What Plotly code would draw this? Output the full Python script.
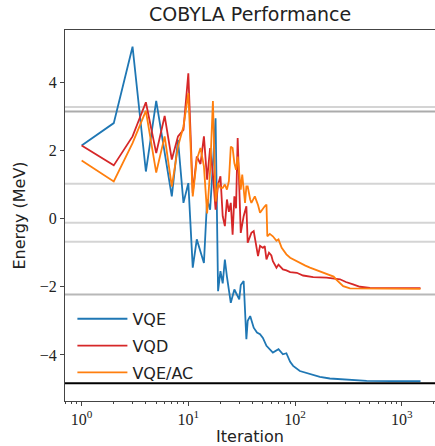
import plotly.graph_objects as go

# ---- data ----
vqe_iter = [1,2,3,4,5,6,7,8,9,10,11,12,13,14,15,16,17,18,19,20,21,22,23,25,27,29,30,31,33,35,36,38,41,44,47,50,54,62,70,77,83,90,96,111,138,171,212,300,469,800,1500]
vqe_energy = [2.14,2.80,5.04,1.38,3.45,2.0,0.65,2.31,0.46,1.04,-1.44,-0.61,-0.95,-1.30,0.56,0.26,1.6,2.94,-2.13,-1.54,-1.9,-1.2,-1.7,-2.47,-2.08,-2.25,-2.37,-1.95,-1.83,-3.54,-3.0,-2.86,-3.2,-3.34,-3.39,-3.5,-3.73,-3.93,-3.83,-3.98,-3.95,-4.2,-4.32,-4.47,-4.56,-4.64,-4.69,-4.73,-4.76,-4.77,-4.77]

vqd_iter = [1,2,3,4,5,6,7,8,9,10,11,12,13,14,15,16,17,18,19,20,21,22,23,24,25,26,27,28,29,30,31,33,35,36,39,41,42,45,47,50,52,54,57,60,62,67,70,77,83,90,104,111,119,148,198,264,300,350,406,504,700,1500]
vqd_energy = [2.14,1.56,2.41,3.41,1.92,3.01,1.73,2.41,2.6,4.26,0.75,1.82,1.6,2.41,1.14,2.07,1.3,0.26,1.0,1.24,0.07,-0.22,0.56,0.2,0.46,-0.47,0.65,0.3,2.36,1.2,-0.42,0.07,0.36,-0.71,-0.42,-0.37,-0.6,-1.10,-0.8,-0.86,-0.81,-1.2,-1.0,-1.08,-1.25,-1.44,-1.35,-1.49,-1.52,-1.57,-1.59,-1.64,-1.67,-1.72,-1.73,-1.78,-1.86,-1.93,-2.0,-2.03,-2.04,-2.04]

vqeac_iter = [1,2,3,4,5,6,7,8,9,10,11,12,13,14,15,16,17,18,19,20,21,22,23,24,25,26,27,28,29,30,31,32,34,35,36,38,39,42,45,47,50,52,54,55,58,62,67,70,75,80,83,90,96,111,125,138,171,212,230,245,283,327,600,1500]
vqeac_energy = [1.70,1.09,2.21,3.16,1.35,2.41,0.94,2.11,2.7,3.68,0.65,1.73,2.07,1.53,0.15,1.4,3.45,0.5,1.04,0.9,0.9,1.0,0.85,1.1,2.11,2.07,1.63,1.43,1.82,1.4,0.85,1.29,0.46,0.94,0.94,0.56,0.46,0.65,0.4,0.17,0.3,0.36,0.41,-0.52,-0.45,-0.52,-0.65,-0.61,-0.86,-1.0,-1.05,-1.15,-1.2,-1.30,-1.38,-1.44,-1.54,-1.64,-1.7,-1.80,-1.98,-2.05,-2.06,-2.06]

level_energies = [3.27, 3.14, 1.02, -0.12, -0.68, -2.23]
level_colors = ["#d4d4d4", "#ababab", "#d4d4d4", "#d4d4d4", "#d4d4d4", "#b8b8b8"]
ground_energy = -4.83

series_names = ["VQE", "VQD", "VQE/AC"]
series_colors = ["#1f77b4", "#d62728", "#ff7f0e"]

x_tickvals = [1, 10, 100, 1000]
x_ticktext = ["10<sup>0</sup>", "10<sup>1</sup>", "10<sup>2</sup>", "10<sup>3</sup>"]
y_tickvals = [-4, -2, 0, 2, 4]

fig = go.Figure()

for e, c in zip(level_energies, level_colors):
    fig.add_hline(y=e, line=dict(color=c, width=2), layer="below")
fig.add_hline(y=ground_energy, line=dict(color="black", width=2))

for name, xs, ys, col in zip(series_names,
                             [vqe_iter, vqd_iter, vqeac_iter],
                             [vqe_energy, vqd_energy, vqeac_energy],
                             series_colors):
    fig.add_trace(go.Scatter(x=xs, y=ys, mode="lines", name=name,
                             legendgroup=name,
                             line=dict(color=col, width=1.8)))

serif = "Liberation Serif"
sans = "DejaVu Sans"

fig.update_layout(
    width=435, height=446,
    margin=dict(l=65, r=0, t=30, b=45),
    paper_bgcolor="white", plot_bgcolor="white",
    title=dict(text="COBYLA Performance", x=0.575, xanchor="center",
               y=0.967, yanchor="middle",
               font=dict(family=sans, size=19, color="#222")),
    showlegend=True,
    legend=dict(x=0.02, y=0.03, xanchor="left", yanchor="bottom",
                bgcolor="rgba(0,0,0,0)", font=dict(family=sans, size=16, color="#222"),
                tracegroupgap=3, traceorder="grouped", itemwidth=50),
    xaxis=dict(type="log", range=[-0.156, 3.312],
               tickvals=x_tickvals, ticktext=x_ticktext,
               ticks="outside", ticklen=4, tickcolor="#444",
               showline=True, linecolor="#444", linewidth=1, mirror=True,
               showgrid=False, zeroline=False,
               tickfont=dict(family=serif, size=16, color="#222"),
               minor=dict(ticks="outside", ticklen=2, tickcolor="#444", dtick="D1", showgrid=False),
               title=dict(text="Iteration", font=dict(family=sans, size=16, color="#222"), standoff=4)),
    yaxis=dict(range=[-5.35, 5.53], tickvals=y_tickvals,
               ticks="outside", ticklen=4, tickcolor="#444",
               showline=True, linecolor="#444", linewidth=1,
               showgrid=False, zeroline=False,
               tickfont=dict(family=serif, size=16, color="#222"),
               title=dict(text="Energy (MeV)", font=dict(family=sans, size=16, color="#222"), standoff=10)),
)

fig.write_html("out.html")
